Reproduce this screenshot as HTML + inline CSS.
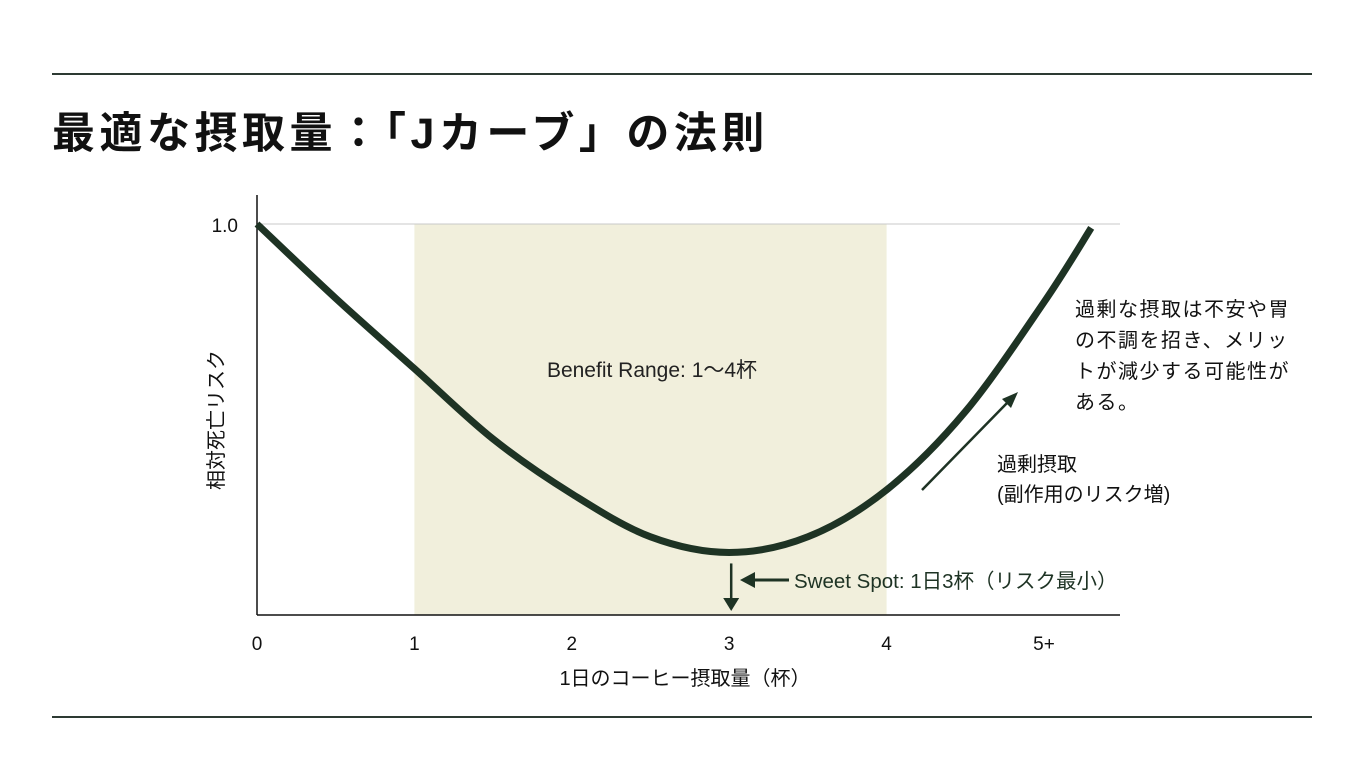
<!DOCTYPE html>
<html><head><meta charset="utf-8">
<style>
body{margin:0;background:#fff;width:1365px;height:768px;overflow:hidden;font-family:"Liberation Sans","Noto Sans CJK JP",sans-serif;}
svg text{font-family:"Liberation Sans","Noto Sans CJK JP",sans-serif;}
</style></head>
<body>
<svg width="1365" height="768">
<line x1="52" y1="74" x2="1312" y2="74" stroke="#2d3a33" stroke-width="2"/>
<line x1="52" y1="717" x2="1312" y2="717" stroke="#2d3a33" stroke-width="2"/>
<text x="52" y="148" font-size="43" font-weight="bold" letter-spacing="4.5" fill="#111">最適な摂取量：「Jカーブ」の法則</text>
<g id="plot"></g>
</svg>
<script>
const xTickLabels=["0","1","2","3","4","5+"];
const xTickValues=[0,1,2,3,4,5];
const curveX=[0,0.5,1,1.5,2,2.5,3,3.5,4,4.5,5,5.3];
const curveY=[1.0,0.81,0.63,0.45,0.31,0.20,0.16,0.20,0.32,0.52,0.80,0.99];
const benefitRange=[1,4];
const minPoint=[3,0.16];

const X0=257,XS=157.4,Y0=615,YS=391;
const sx=v=>X0+v*XS, sy=v=>Y0-v*YS;
const g=document.getElementById('plot');
const NS='http://www.w3.org/2000/svg';
function mk(tag,attrs,txt){const e=document.createElementNS(NS,tag);for(const k in attrs)e.setAttribute(k,attrs[k]);if(txt!==undefined)e.textContent=txt;g.appendChild(e);return e;}

let e=mk('rect',{x:sx(benefitRange[0]),y:sy(1),width:sx(benefitRange[1])-sx(benefitRange[0]),height:Y0-sy(1),fill:'#f1efdc'});


e=mk('line',{x1:X0,y1:sy(1),x2:1120,y2:sy(1),stroke:'#c8c8c8','stroke-width':1});


e=mk('line',{x1:X0,y1:195,x2:X0,y2:Y0,stroke:'#111','stroke-width':1.5});


e=mk('line',{x1:X0,y1:Y0,x2:1120,y2:Y0,stroke:'#111','stroke-width':1.5});


e=mk('text',{x:238,y:232,'font-size':19,'text-anchor':'end',fill:'#111'},'1.0');


xTickValues.forEach((v,i)=>{
  const t=mk('text',{x:sx(v),y:650,'font-size':19,'text-anchor':'middle',fill:'#111'},xTickLabels[i]);
  
  
});
e=mk('text',{x:685,y:685,'font-size':20,'text-anchor':'middle',fill:'#111'},'1日のコーヒー摂取量（杯）');


e=mk('text',{x:0,y:0,'font-size':20,'text-anchor':'middle',fill:'#111',transform:'translate(223,420) rotate(-90)'},'相対死亡リスク');


e=mk('text',{x:652,y:377,'font-size':21,'text-anchor':'middle',fill:'#222'},'Benefit Range: 1〜4杯');



const pts=curveX.map((x,i)=>[sx(x),sy(curveY[i])]);
let d='M'+pts[0][0]+','+pts[0][1];
for(let i=0;i<pts.length-1;i++){
  const p0=pts[i-1]||pts[i],p1=pts[i],p2=pts[i+1],p3=pts[i+2]||p2;
  const c1=[p1[0]+(p2[0]-p0[0])/6,p1[1]+(p2[1]-p0[1])/6];
  const c2=[p2[0]-(p3[0]-p1[0])/6,p2[1]-(p3[1]-p1[1])/6];
  d+=` C${c1[0]},${c1[1]} ${c2[0]},${c2[1]} ${p2[0]},${p2[1]}`;
}
e=mk('path',{d:d,fill:'none',stroke:'#1e3324','stroke-width':7,'stroke-linecap':'butt','stroke-linejoin':'round'});



const mx=sx(minPoint[0])+2, my=sy(minPoint[1]);
e=mk('path',{d:`M${mx},${my+11} L${mx},${Y0-14}`,stroke:'#1e3324','stroke-width':2.5});


e=mk('path',{d:`M${mx-8},${Y0-17} L${mx+8},${Y0-17} L${mx},${Y0-4} Z`,fill:'#1e3324'});


e=mk('path',{d:`M789,580 L752,580`,stroke:'#1e3324','stroke-width':3});


e=mk('path',{d:`M740,580 L755,572 L755,588 Z`,fill:'#1e3324'});


e=mk('text',{x:794,y:588,'font-size':20.5,fill:'#1e3324'},'Sweet Spot: 1日3杯（リスク最小）');



e=mk('path',{d:'M922,490 L1008,402',stroke:'#1e3324','stroke-width':2.5});


e=mk('path',{d:'M1018,392 L1002,399 L1011,408 Z',fill:'#1e3324'});


e=mk('text',{x:997,y:471,'font-size':20,fill:'#111'},'過剰摂取');


e=mk('text',{x:997,y:501,'font-size':20,fill:'#111'},'(副作用のリスク増)');


['過剰な摂取は不安や胃','の不調を招き、メリッ','トが減少する可能性が','ある。'].forEach((s,i)=>{
  const t=mk('text',{x:1075,y:316+i*31,'font-size':20,'letter-spacing':1.5,fill:'#111'},s);
  
  
});
</script>
</body></html>
